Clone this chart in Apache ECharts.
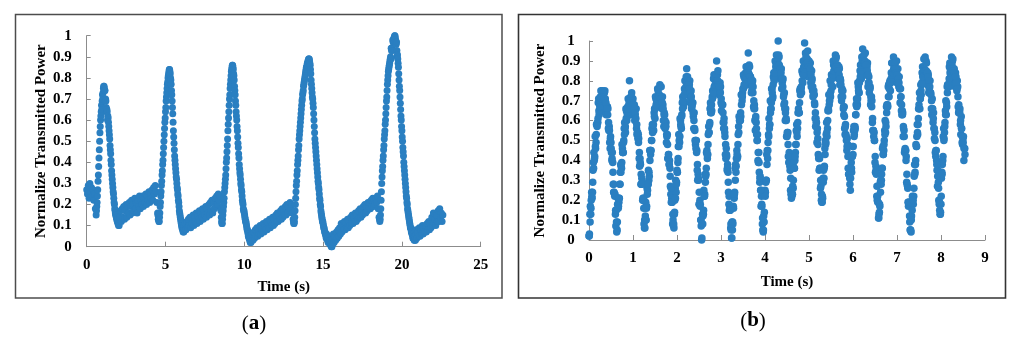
<!DOCTYPE html>
<html>
<head>
<meta charset="utf-8">
<script src="https://cdn.jsdelivr.net/npm/echarts@6/dist/echarts.min.js"></script>
<style>
html,body{margin:0;padding:0;background:#fff;}
#c{width:1024px;height:349px;}
</style>
</head>
<body>
<div id="c"></div>
<script>
// ---------- Panel (a): segments (baseline stretches every 0.05 s, pulses every 0.02 s) ----------
const segStartA = [0.00, 0.60, 2.10, 4.52, 6.25, 8.52, 10.50, 13.12, 15.65, 18.58, 20.90];
const segStepA  = [0.05, 0.02, 0.05, 0.02, 0.05, 0.02, 0.05, 0.02, 0.05, 0.02, 0.05];
const powerA = [
  [0.27,0.25,0.29,0.23,0.30,0.26,0.28,0.24,0.27,0.22,0.25,0.18],
  [0.15,0.17,0.19,0.21,0.24,0.27,0.31,0.34,0.38,0.42,0.46,0.50,0.54,0.57,0.60,0.62,0.64,0.67,0.65,0.69,0.72,
   0.70,0.73,0.75,0.76,0.76,0.75,0.74,0.74,0.69,0.70,0.69,0.66,0.64,0.65,0.64,0.60,0.62,0.61,0.59,0.57,
   0.55,0.53,0.51,0.48,0.46,0.44,0.41,0.39,0.36,0.34,0.32,0.30,0.28,0.26,0.25,0.23,0.21,0.20,0.18,0.17,
   0.16,0.15,0.15,0.14,0.13,0.15,0.12,0.14,0.11,0.13,0.10,0.12,0.10,0.13],
  [0.14,0.17,0.12,0.18,0.14,0.19,0.13,0.17,0.20,0.14,0.19,0.16,0.21,0.15,0.19,0.22,0.16,0.20,
   0.17,0.23,0.18,0.21,0.16,0.22,0.19,0.24,0.18,0.22,0.20,0.24,0.19,0.23,0.21,0.25,0.20,0.24,0.22,0.26,
   0.21,0.25,0.23,0.27,0.22,0.28,0.25,0.29,0.26,0.21,0.16],
  [0.15,0.13,0.14,0.12,0.12,0.14,0.16,0.19,0.21,0.24,0.26,0.29,0.31,0.34,0.36,0.39,0.41,0.44,0.47,0.50,0.53,0.56,0.59,0.61,0.64,
   0.66,0.69,0.71,0.73,0.75,0.77,0.78,0.80,0.81,0.82,0.83,0.84,0.84,0.83,0.82,0.80,0.79,0.77,0.74,0.72,
   0.69,0.66,0.63,0.59,0.55,0.52,0.49,0.46,0.43,0.41,0.39,0.37,0.35,0.33,0.32,0.30,0.28,0.27,0.25,0.24,
   0.22,0.21,0.19,0.17,0.16,0.15,0.14,0.13,0.12,0.11,0.10,0.09,0.10,0.08,0.09,0.07,0.09,0.07,0.10,0.08],
  [0.11,0.08,0.12,0.09,0.13,0.10,0.14,0.09,0.13,0.11,0.15,0.10,0.14,0.12,0.16,
   0.11,0.15,0.13,0.17,0.12,0.16,0.14,0.18,0.13,0.17,0.15,0.19,0.14,0.18,0.16,0.20,0.15,0.21,0.17,0.22,
   0.16,0.21,0.18,0.23,0.19,0.24,0.20,0.25,0.22,0.24,0.18],
  [0.17,0.14,0.12,0.11,0.11,0.13,0.15,0.17,0.19,0.21,0.23,0.26,0.28,0.30,0.32,0.34,0.37,0.40,0.42,0.45,0.48,0.51,0.55,0.58,0.61,
   0.64,0.67,0.70,0.72,0.75,0.77,0.79,0.81,0.83,0.84,0.85,0.86,0.86,0.85,0.84,0.82,0.81,0.79,0.76,0.74,
   0.72,0.69,0.67,0.64,0.62,0.60,0.57,0.55,0.52,0.49,0.47,0.44,0.42,0.39,0.37,0.35,0.34,0.32,0.30,0.29,
   0.27,0.26,0.24,0.22,0.21,0.20,0.18,0.17,0.17,0.16,0.15,0.14,0.13,0.12,0.12,0.11,0.10,0.09,0.08,0.08,
   0.07,0.06,0.05,0.05,0.04,0.05,0.03,0.04,0.02,0.03,0.02,0.05,0.03,0.06],
  [0.06,0.03,0.07,0.04,0.08,0.05,0.09,0.05,0.08,0.06,
   0.10,0.06,0.09,0.07,0.11,0.07,0.10,0.08,0.12,0.08,0.11,0.09,0.13,0.09,0.12,0.10,0.14,0.10,0.13,0.11,
   0.15,0.12,0.16,0.12,0.15,0.13,0.17,0.13,0.18,0.14,0.17,0.15,0.19,0.15,0.20,0.16,0.19,0.17,0.21,0.18,
   0.20,0.16,0.13],
  [0.12,0.11,0.11,0.12,0.14,0.17,0.20,0.23,0.26,0.29,0.31,0.34,0.36,0.39,0.41,0.43,0.46,0.48,0.51,0.53,
   0.55,0.57,0.59,0.61,0.63,0.65,0.67,0.69,0.70,0.72,0.73,0.74,0.76,0.77,0.78,0.79,0.80,0.81,0.82,0.83,
   0.84,0.85,0.85,0.86,0.87,0.87,0.88,0.88,0.89,0.89,0.89,0.88,0.87,0.86,0.84,0.82,0.79,0.77,0.75,0.73,
   0.71,0.70,0.68,0.66,0.63,0.60,0.57,0.54,0.51,0.49,0.47,0.45,0.43,0.41,0.39,0.37,0.35,0.33,0.31,0.30,
   0.28,0.27,0.25,0.23,0.22,0.20,0.19,0.17,0.16,0.15,0.14,0.13,0.12,0.12,0.11,0.10,0.09,0.09,0.08,0.07,
   0.07,0.06,0.06,0.05,0.04,0.06,0.04,0.05,0.03,0.04,0.02,0.05,0.03,0.04,0.02,0.03,0.01,0.03,0.01,0.02,0.00,0.02,0.00,0.03,0.01],
  [0.06,0.02,0.05,0.03,0.07,0.04,0.08,
   0.05,0.09,0.06,0.11,0.07,0.10,0.08,0.12,0.08,0.11,0.09,0.13,0.09,0.12,0.10,0.14,0.11,0.15,0.11,0.14,
   0.12,0.16,0.12,0.15,0.13,0.17,0.14,0.18,0.14,0.17,0.15,0.19,0.16,0.20,0.16,0.19,0.17,0.21,0.18,0.21,
   0.18,0.22,0.19,0.23,0.19,0.22,0.20,0.23,0.21,0.24,0.18,0.14],
  [0.13,0.12,0.13,0.15,0.18,0.22,0.26,0.30,0.33,0.36,0.38,0.41,0.43,0.46,0.48,0.51,0.53,0.55,0.58,0.60,
   0.63,0.66,0.69,0.71,0.74,0.77,0.79,0.81,0.83,0.84,0.85,0.86,0.87,0.88,0.89,0.90,0.89,0.94,0.93,0.94,
   0.94,0.93,0.98,0.97,0.97,0.98,0.99,0.99,1.00,1.00,0.99,0.98,0.97,0.96,0.97,0.93,0.90,0.91,0.89,0.87,
   0.85,0.82,0.79,0.76,0.74,0.71,0.68,0.65,0.62,0.60,0.57,0.55,0.52,0.50,0.47,0.45,0.43,0.40,0.38,0.36,
   0.34,0.32,0.30,0.28,0.26,0.24,0.23,0.21,0.20,0.18,0.17,0.16,0.15,0.14,0.13,0.12,0.11,0.10,0.09,0.09,
   0.08,0.07,0.07,0.06,0.06,0.05,0.04,0.06,0.04,0.05,0.03,0.04,0.03,0.05,0.03,0.06],
  [0.08,0.04,
   0.07,0.05,0.09,0.05,0.08,0.06,0.10,0.06,0.09,0.07,0.10,0.07,0.11,0.08,0.12,0.08,0.11,0.09,0.14,0.10,
   0.16,0.11,0.13,0.10,0.15,0.12,0.17,0.12,0.18,0.13,0.16,0.12,0.15]
];

// ---------- Panel (b): one row per oscillation; three reading passes per 0.02 s ----------
const stepB = 0.02;
const cycleStartB = [0.00,0.64,1.28,1.92,2.56,3.24,3.96,4.62,5.30,5.94,6.58,7.30,7.98];
const powerB = [
  [0.02,0.13,0.13,0.24,0.24,0.39,0.40,0.52,0.49,0.58,0.59,0.71,0.64,0.72,0.65,0.75,0.72,0.67,0.75,0.67,0.66,0.67,0.56,0.57,0.46,0.49,0.40,0.39,0.24,0.23,0.13,0.15],
  [0.05,0.21,0.19,0.28,0.38,0.36,0.46,0.44,0.56,0.56,0.66,0.60,0.67,0.66,0.80,0.67,0.72,0.63,0.71,0.66,0.60,0.66,0.56,0.54,0.53,0.41,0.41,0.28,0.31,0.20,0.21,0.06],
  [0.12,0.10,0.26,0.28,0.30,0.45,0.43,0.50,0.58,0.55,0.64,0.61,0.71,0.69,0.76,0.68,0.73,0.69,0.77,0.66,0.68,0.57,0.63,0.57,0.49,0.53,0.41,0.38,0.36,0.23,0.21,0.08],
  [0.07,0.13,0.26,0.24,0.35,0.39,0.53,0.49,0.60,0.56,0.69,0.70,0.69,0.80,0.75,0.86,0.82,0.75,0.78,0.69,0.75,0.67,0.69,0.56,0.56,0.48,0.50,0.35,0.33,0.18,0.20,0.10],
  [0.00,0.13,0.13,0.22,0.33,0.33,0.45,0.43,0.57,0.58,0.69,0.64,0.72,0.72,0.83,0.75,0.82,0.90,0.83,0.78,0.73,0.79,0.69,0.68,0.68,0.56,0.56,0.43,0.46,0.35,0.34,0.18,0.16,0.06],
  [0.01,0.05,0.17,0.21,0.36,0.34,0.45,0.42,0.57,0.60,0.60,0.73,0.70,0.76,0.82,0.78,0.84,0.79,0.87,0.94,0.88,0.78,0.81,0.75,0.80,0.67,0.68,0.55,0.59,0.50,0.40,0.44,0.29,0.25,0.22,0.08],
  [0.04,0.09,0.25,0.29,0.43,0.41,0.53,0.56,0.70,0.66,0.76,0.72,0.84,0.84,0.83,0.93,0.86,1.00,0.92,0.83,0.86,0.76,0.80,0.72,0.74,0.60,0.61,0.52,0.54,0.39,0.39,0.25,0.21],
  [0.23,0.26,0.41,0.40,0.48,0.58,0.56,0.66,0.64,0.76,0.76,0.85,0.79,0.87,0.99,0.94,0.86,0.91,0.82,0.90,0.86,0.79,0.85,0.75,0.73,0.73,0.61,0.61,0.49,0.51,0.41,0.41,0.26,0.20],
  [0.19,0.31,0.31,0.46,0.48,0.59,0.56,0.66,0.68,0.80,0.75,0.83,0.77,0.88,0.87,0.93,0.92,0.84,0.85,0.87,0.78,0.80,0.70,0.75,0.66,0.67,0.53,0.53,0.45,0.48,0.33,0.33],
  [0.25,0.39,0.42,0.43,0.57,0.55,0.63,0.71,0.68,0.77,0.74,0.85,0.84,0.92,0.96,0.90,0.87,0.94,0.85,0.87,0.77,0.82,0.76,0.68,0.72,0.59,0.55,0.54,0.39,0.37,0.22,0.22],
  [0.11,0.14,0.29,0.28,0.36,0.47,0.45,0.55,0.54,0.67,0.67,0.77,0.72,0.80,0.79,0.89,0.81,0.92,0.80,0.89,0.84,0.79,0.86,0.77,0.76,0.76,0.65,0.65,0.52,0.55,0.45,0.45,0.29,0.27,0.17,0.18],
  [0.05,0.04,0.18,0.20,0.22,0.38,0.38,0.47,0.58,0.58,0.68,0.66,0.78,0.78,0.87,0.80,0.86,0.92,0.90,0.81,0.84,0.74,0.80,0.74,0.66,0.71,0.59,0.56,0.54,0.42,0.40,0.27,0.29,0.18],
  [0.13,0.18,0.34,0.40,0.56,0.54,0.65,0.63,0.77,0.78,0.77,0.89,0.83,0.92,0.90,0.82,0.86,0.77,0.82,0.75,0.77,0.64,0.65,0.58,0.62,0.49,0.51,0.40,0.46]
];
// pass read 0.01 s after each sample above
const powerBHalf = [
  [0.03,0.17,0.20,0.21,0.35,0.44,0.42,0.46,0.58,0.59,0.69,0.63,0.68,0.75,0.67,0.74,0.69,0.74,0.71,0.63,0.67,0.66,0.55,0.49,0.52,0.44,0.44,0.28,0.24,0.23,0.07,0.04],
  [0.18,0.17,0.21,0.34,0.37,0.48,0.44,0.50,0.59,0.54,0.65,0.62,0.71,0.70,0.65,0.72,0.74,0.67,0.63,0.68,0.63,0.66,0.53,0.51,0.51,0.37,0.38,0.28,0.29,0.20,0.08,0.06],
  [0.19,0.17,0.25,0.35,0.32,0.45,0.45,0.56,0.57,0.55,0.66,0.72,0.67,0.67,0.75,0.72,0.78,0.68,0.69,0.72,0.60,0.64,0.56,0.59,0.52,0.41,0.43,0.40,0.27,0.19,0.19,0.10],
  [0.06,0.20,0.30,0.29,0.34,0.47,0.50,0.61,0.57,0.63,0.72,0.67,0.76,0.73,0.82,0.79,0.73,0.79,0.80,0.71,0.66,0.69,0.62,0.64,0.50,0.46,0.45,0.30,0.30,0.18,0.18,0.07],
  [0.08,0.12,0.25,0.23,0.32,0.44,0.41,0.53,0.54,0.66,0.67,0.65,0.75,0.81,0.76,0.75,0.83,0.80,0.85,0.75,0.75,0.77,0.65,0.68,0.59,0.61,0.52,0.41,0.42,0.38,0.24,0.15,0.15,0.05],
  [0.09,0.08,0.22,0.24,0.38,0.41,0.41,0.53,0.62,0.60,0.62,0.73,0.74,0.83,0.77,0.81,0.87,0.79,0.86,0.81,0.87,0.82,0.74,0.78,0.77,0.66,0.60,0.62,0.53,0.53,0.39,0.34,0.32,0.17,0.17,0.05],
  [0.12,0.23,0.24,0.30,0.45,0.49,0.61,0.58,0.66,0.76,0.71,0.82,0.80,0.90,0.89,0.83,0.90,0.93,0.85,0.81,0.86,0.79,0.81,0.68,0.66,0.66,0.52,0.53,0.42,0.44,0.35,0.23,0.22],
  [0.27,0.39,0.36,0.44,0.55,0.52,0.64,0.64,0.75,0.76,0.74,0.84,0.90,0.85,0.84,0.92,0.89,0.95,0.85,0.86,0.89,0.77,0.81,0.72,0.75,0.68,0.57,0.59,0.56,0.43,0.35,0.36,0.27,0.19],
  [0.21,0.35,0.37,0.50,0.53,0.52,0.65,0.73,0.70,0.72,0.83,0.82,0.90,0.83,0.86,0.91,0.82,0.88,0.81,0.86,0.81,0.72,0.76,0.75,0.63,0.56,0.58,0.50,0.51,0.36,0.33,0.28],
  [0.35,0.34,0.47,0.55,0.53,0.56,0.68,0.69,0.79,0.74,0.80,0.88,0.81,0.90,0.86,0.93,0.90,0.83,0.89,0.89,0.79,0.74,0.77,0.70,0.70,0.55,0.52,0.50,0.34,0.33,0.20,0.19],
  [0.13,0.17,0.30,0.33,0.46,0.43,0.50,0.60,0.57,0.68,0.67,0.78,0.79,0.75,0.84,0.89,0.83,0.82,0.89,0.85,0.90,0.79,0.79,0.82,0.69,0.72,0.63,0.64,0.56,0.44,0.45,0.42,0.28,0.19,0.19,0.09],
  [0.05,0.12,0.22,0.18,0.32,0.34,0.48,0.52,0.53,0.66,0.74,0.71,0.73,0.84,0.83,0.91,0.82,0.84,0.89,0.78,0.83,0.76,0.80,0.73,0.63,0.66,0.64,0.51,0.44,0.45,0.35,0.35,0.20,0.15],
  [0.14,0.31,0.38,0.52,0.51,0.59,0.70,0.67,0.78,0.77,0.87,0.86,0.81,0.88,0.91,0.83,0.79,0.84,0.78,0.80,0.67,0.65,0.66,0.53,0.56,0.48,0.52,0.46]
];
// pass read 0.005 s after each sample of powerB (centre of the scatter band)
const powerBQuarter = [
  [0.02,0.09,0.16,0.22,0.29,0.36,0.41,0.47,0.53,0.57,0.61,0.65,0.67,0.70,0.71,0.72,0.72,0.71,0.70,0.69,0.66,0.63,0.59,0.55,0.51,0.46,0.41,0.34,0.28,0.22,0.15,0.09],
  [0.09,0.16,0.21,0.28,0.34,0.39,0.44,0.49,0.53,0.57,0.61,0.64,0.66,0.68,0.69,0.70,0.70,0.69,0.68,0.66,0.64,0.61,0.58,0.54,0.49,0.44,0.39,0.33,0.28,0.21,0.16,0.10],
  [0.10,0.16,0.23,0.28,0.34,0.40,0.45,0.50,0.54,0.58,0.62,0.66,0.68,0.70,0.71,0.72,0.72,0.71,0.71,0.69,0.66,0.63,0.60,0.57,0.53,0.48,0.43,0.38,0.32,0.26,0.19,0.13],
  [0.08,0.14,0.21,0.28,0.34,0.41,0.47,0.52,0.58,0.62,0.66,0.70,0.73,0.75,0.77,0.78,0.78,0.78,0.76,0.74,0.72,0.68,0.64,0.60,0.55,0.50,0.44,0.38,0.31,0.24,0.17,0.10],
  [0.01,0.08,0.15,0.22,0.29,0.36,0.43,0.48,0.54,0.59,0.64,0.68,0.71,0.74,0.77,0.78,0.80,0.80,0.80,0.78,0.77,0.74,0.71,0.68,0.64,0.59,0.54,0.48,0.43,0.36,0.29,0.22,0.15,0.08],
  [0.01,0.09,0.16,0.23,0.30,0.37,0.43,0.48,0.54,0.60,0.64,0.68,0.72,0.76,0.78,0.81,0.82,0.84,0.84,0.84,0.83,0.82,0.80,0.77,0.74,0.70,0.66,0.61,0.56,0.50,0.44,0.39,0.31,0.25,0.18,0.11],
  [0.05,0.14,0.22,0.30,0.38,0.45,0.52,0.58,0.64,0.69,0.74,0.78,0.81,0.84,0.87,0.88,0.88,0.88,0.88,0.86,0.84,0.81,0.77,0.73,0.69,0.64,0.60,0.54,0.48,0.42,0.37,0.31,0.25],
  [0.23,0.30,0.36,0.42,0.48,0.54,0.59,0.64,0.69,0.73,0.77,0.80,0.83,0.86,0.87,0.88,0.89,0.89,0.88,0.87,0.86,0.83,0.80,0.77,0.73,0.69,0.64,0.59,0.54,0.48,0.42,0.36,0.30,0.23],
  [0.22,0.29,0.36,0.43,0.49,0.54,0.60,0.65,0.70,0.74,0.78,0.81,0.83,0.85,0.87,0.87,0.87,0.86,0.85,0.83,0.81,0.78,0.75,0.72,0.67,0.62,0.57,0.52,0.47,0.42,0.36,0.31],
  [0.31,0.36,0.42,0.47,0.52,0.57,0.63,0.67,0.71,0.75,0.79,0.82,0.85,0.87,0.88,0.89,0.89,0.88,0.88,0.85,0.83,0.79,0.76,0.72,0.67,0.61,0.55,0.50,0.42,0.35,0.27,0.19],
  [0.11,0.18,0.24,0.30,0.36,0.43,0.48,0.53,0.59,0.64,0.68,0.72,0.76,0.79,0.81,0.83,0.84,0.86,0.86,0.86,0.84,0.83,0.81,0.79,0.76,0.72,0.68,0.63,0.57,0.52,0.46,0.40,0.33,0.26,0.19,0.12],
  [0.05,0.10,0.15,0.20,0.26,0.33,0.40,0.47,0.54,0.61,0.66,0.71,0.75,0.79,0.82,0.84,0.85,0.85,0.85,0.84,0.82,0.80,0.77,0.74,0.70,0.66,0.61,0.56,0.50,0.45,0.38,0.32,0.26,0.19],
  [0.13,0.22,0.33,0.42,0.50,0.57,0.63,0.69,0.74,0.78,0.81,0.84,0.85,0.86,0.86,0.85,0.84,0.82,0.79,0.76,0.72,0.68,0.64,0.60,0.56,0.52,0.49,0.46,0.43]
];
const passOffsetB = [0, 0.01, 0.005];

// ---------- Axis ranges [min, max, interval] and texts ----------
const xRangeA = [0, 25, 5];
const xRangeB = [0, 9, 1];
const yRange = [0, 1, 0.1];
const xTitle = 'Time (s)';
const yTitle = 'Normalize Transmitted Power';
const panelLabels = ['a', 'b'];

function pointsA() {
  const out = [];
  powerA.forEach((row, j) => row.forEach((v, i) => {
    out.push([+(segStartA[j] + i * segStepA[j]).toFixed(3), v]);
  }));
  return out;
}
function pointsB() {
  const out = [];
  [powerB, powerBHalf, powerBQuarter].forEach((pass, p) => {
    pass.forEach((row, j) => row.forEach((v, i) => {
      out.push([+(cycleStartB[j] + passOffsetB[p] + i * stepB).toFixed(3), v]);
    }));
  });
  return out;
}

const FONT = '"Liberation Serif","Times New Roman",serif';
const DOT = '#2a7fc1';
const AXIS = '#8c8c8c';

function xAxisCfg(grid, range, gap) {
  return {
    gridIndex: grid, type: 'value', min: range[0], max: range[1], interval: range[2],
    name: xTitle, nameLocation: 'middle', nameGap: gap,
    nameTextStyle: { fontFamily: FONT, fontWeight: 'bold', fontSize: 15, color: '#000' },
    axisLine: { show: true, onZero: false, lineStyle: { color: AXIS, width: 1 } },
    axisTick: { show: true, inside: true, length: 5, lineStyle: { color: AXIS } },
    axisLabel: { margin: 11, fontFamily: FONT, fontWeight: 'bold', fontSize: 15, color: '#000' },
    splitLine: { show: false }
  };
}
function yAxisCfg(grid, gap, margin, align) {
  return {
    gridIndex: grid, type: 'value', min: yRange[0], max: yRange[1], interval: yRange[2],
    name: yTitle, nameLocation: 'middle', nameGap: gap,
    nameTextStyle: { fontFamily: FONT, fontWeight: 'bold', fontSize: 15, color: '#000' },
    axisLine: { show: true, onZero: false, lineStyle: { color: AXIS, width: 1 } },
    axisTick: { show: true, inside: true, length: 4, lineStyle: { color: AXIS } },
    axisLabel: { margin: margin, align: align, fontFamily: FONT, fontWeight: 'bold', fontSize: 15, color: '#000' },
    splitLine: { show: false }
  };
}

const chart = echarts.init(document.getElementById('c'), null, { renderer: 'canvas' });
const richLbl = {
  p: { fontFamily: FONT, fontSize: 21, fontWeight: 'normal', color: '#000' },
  b: { fontFamily: FONT, fontSize: 21, fontWeight: 'bold', color: '#000' }
};
chart.setOption({
  animation: false,
  backgroundColor: '#fff',
  grid: [
    { left: 86.7, top: 35.7, width: 394, height: 211 },
    { left: 589, top: 41, width: 396, height: 199 }
  ],
  xAxis: [ xAxisCfg(0, xRangeA, 33), xAxisCfg(1, xRangeB, 35) ],
  yAxis: [ yAxisCfg(0, 37, 15, 'right'), yAxisCfg(1, 41, 18, 'center') ],
  series: [
    { type: 'scatter', xAxisIndex: 0, yAxisIndex: 0, symbol: 'circle', symbolSize: 7,
      itemStyle: { color: DOT, opacity: 1 }, data: pointsA() },
    { type: 'scatter', xAxisIndex: 1, yAxisIndex: 1, symbol: 'circle', symbolSize: 7.5,
      itemStyle: { color: DOT, opacity: 1 }, data: pointsB() }
  ],
  graphic: [
    { type: 'rect', silent: true, shape: { x: 15.5, y: 14.5, width: 486.5, height: 283.5 },
      style: { fill: 'none', stroke: '#4d4d4d', lineWidth: 1.5 } },
    { type: 'rect', silent: true, shape: { x: 518.5, y: 14.5, width: 487, height: 283.5 },
      style: { fill: 'none', stroke: '#333', lineWidth: 1.6 } },
    { type: 'text', silent: true, x: 254, y: 324,
      style: { text: '{p|(}{b|' + panelLabels[0] + '}{p|)}', rich: richLbl, align: 'center', verticalAlign: 'middle' } },
    { type: 'text', silent: true, x: 753, y: 321,
      style: { text: '{p|(}{b|' + panelLabels[1] + '}{p|)}', rich: richLbl, align: 'center', verticalAlign: 'middle' } }
  ]
});
</script>
</body>
</html>
